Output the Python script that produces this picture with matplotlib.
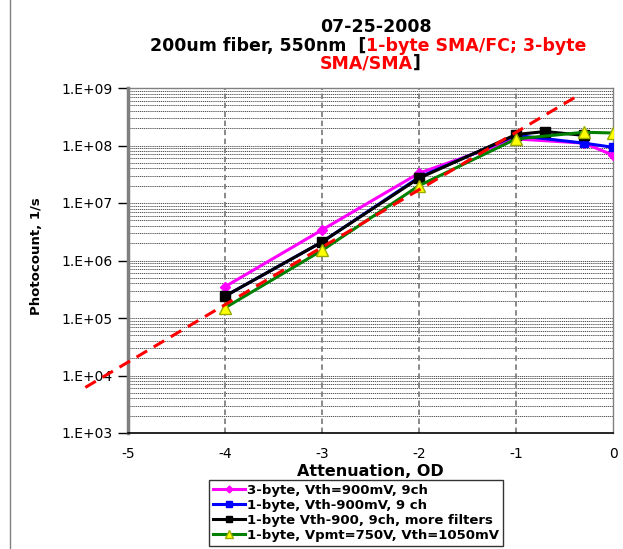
import numpy as np
import matplotlib
matplotlib.use("Agg")
import matplotlib.pyplot as plt
from matplotlib.lines import Line2D

# data (attenuation OD, photocount 1/s)
x_mag = [-4, -3, -2, -1, -0.3, 0]
y_mag = [3.5e5, 3.4e6, 3.3e7, 1.3e8, 1.1e8, 6.8e7]

x_blue = [-4, -3, -2, -1, -0.3, 0]
y_blue = [2.4e5, 2.1e6, 2.8e7, 1.5e8, 1.1e8, 9.3e7]

x_black = [-4, -3, -2, -1, -0.7, -0.3]
y_black = [2.4e5, 2.1e6, 2.7e7, 1.55e8, 1.75e8, 1.5e8]

x_green = [-4, -3, -2, -1, -0.3, 0]
y_green = [1.5e5, 1.5e6, 2.0e7, 1.3e8, 1.7e8, 1.65e8]

# red dashed reference line (end points)
x_ref = [-5.44, -0.36]
y_ref = [6.2e3, 7.4e8]

labels = ["3-byte, Vth=900mV, 9ch",
          "1-byte, Vth-900mV, 9 ch",
          "1-byte Vth-900, 9ch, more filters",
          "1-byte, Vpmt=750V, Vth=1050mV"]

xticks = [-5, -4, -3, -2, -1, 0]
yticks = [1e3, 1e4, 1e5, 1e6, 1e7, 1e8, 1e9]
ytick_labels = ["1.E+03", "1.E+04", "1.E+05", "1.E+06", "1.E+07", "1.E+08", "1.E+09"]

fig = plt.figure(figsize=(6.23, 5.49), dpi=100)
ax = fig.add_axes([128/623, 1-433/549, 485/623, 345/549])

ax.set_yscale("log")
ax.set_xlim(-5, 0)
ax.set_ylim(1e3, 1e9)

# grid: horizontal dotted black at every log step, vertical dashed gray
minor = [k * 10.0**e for e in range(3, 9) for k in range(2, 10)]
for v in minor + yticks[1:]:
    ax.axhline(v, color="#202020", ls=(0, (1.5, 1)), lw=0.55, zorder=1)
for v in xticks[1:-1]:
    ax.axvline(v, color="#808080", ls=(0, (3, 2)), lw=1.3, zorder=1)

lw = 2.2
l1, = ax.plot(x_mag, y_mag, color="#ff00ff", lw=lw, marker="D", ms=5,
              zorder=3, label=labels[0])
l2, = ax.plot(x_blue, y_blue, color="#0000ff", lw=lw, marker="s", ms=6,
              zorder=4, label=labels[1])
l3, = ax.plot(x_black, y_black, color="black", lw=lw, marker="s", ms=7,
              zorder=5, label=labels[2])
l4, = ax.plot(x_green, y_green, color="#008000", lw=lw, marker="^", ms=9,
              mfc="#ffff00", mec="#99aa00", zorder=6, label=labels[3])
ax.plot(x_ref, y_ref, color="#ff0000", lw=2.2, ls=(0, (4, 2.5)),
        zorder=7, clip_on=False)

ax.set_xticks(xticks)
ax.set_xticklabels([str(t) for t in xticks])
ax.set_yticks(yticks)
ax.set_yticklabels(ytick_labels)
ax.yaxis.set_minor_locator(matplotlib.ticker.NullLocator())
ax.tick_params(axis="y", length=7, width=1, direction="out", labelsize=10, pad=4)
ax.tick_params(axis="x", length=0, labelsize=10, pad=10)

for s in ["top", "right"]:
    ax.spines[s].set_color("#808080")
    ax.spines[s].set_linewidth(1)
ax.spines["left"].set_color("#808080")
ax.spines["left"].set_linewidth(2.5)
ax.spines["bottom"].set_color("black")
ax.spines["bottom"].set_linewidth(1.2)

ax.set_xlabel("Attenuation, OD", fontsize=11.5, fontweight="bold", labelpad=2)
fig.text(36/623, 1-256/549, "Photocount, 1/s", rotation=90, ha="center",
         va="center", fontsize=9.5, fontweight="bold")

# title, three lines, part in red
fs = 12.5
fig.text(376/623, 1-27/549, "07-25-2008", ha="center", va="center",
         fontsize=fs, fontweight="bold")
t_a = fig.text(150/623, 1-46/549, "200um fiber, 550nm  [", ha="left",
               va="center", fontsize=fs, fontweight="bold")
ax.annotate("1-byte SMA/FC; 3-byte", xy=(1, 0), xycoords=t_a,
            va="bottom", ha="left", fontsize=fs, fontweight="bold",
            color="red")
t_c = fig.text(320/623, 1-63/549, "SMA/SMA", ha="left", va="center",
               fontsize=fs, fontweight="bold", color="red")
ax.annotate("]", xy=(1, 0), xycoords=t_c, va="bottom", ha="left",
            fontsize=fs, fontweight="bold")

leg = fig.legend(handles=[l1, l2, l3, l4], loc="upper left",
                 bbox_to_anchor=(209/623, 1-480/549), frameon=True,
                 fancybox=False, edgecolor="black",
                 prop={"weight": "bold", "size": 9.5}, handlelength=2.4,
                 handletextpad=0.2, labelspacing=0.15, borderpad=0.3,
                 borderaxespad=0, markerscale=0.7)
leg.get_frame().set_linewidth(1)

# chart border on the left
fig.add_artist(Line2D([10/623, 10/623], [0, 1], color="#808080", lw=1))

fig.savefig("out.png", dpi=100)
